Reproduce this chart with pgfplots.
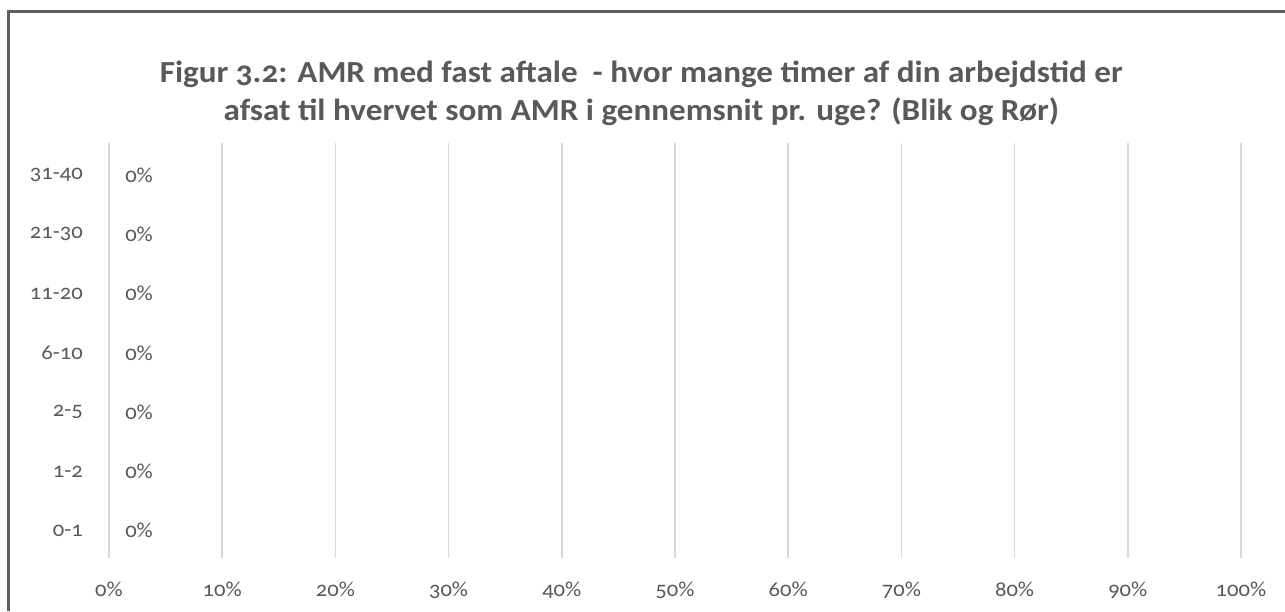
\documentclass[border=0pt]{standalone}
\usepackage{pgfplots}
\pgfplotsset{compat=1.18}
\usepackage{fontspec}
\setmainfont{Carlito}[Numbers=OldStyle]
\newfontfamily\titlefont{Carlito}[Numbers=OldStyle,FakeStretch=1.08]
\newfontfamily\tickfont{Carlito}[Numbers=OldStyle,FakeStretch=1.06]
\definecolor{txt}{HTML}{595959}
\definecolor{gridc}{HTML}{D9D9D9}
\definecolor{framec}{HTML}{5F5F5F}
\definecolor{barc}{HTML}{4472C4}
\begin{document}
\begin{tikzpicture}
\useasboundingbox (0,0) rectangle (963.75pt,458.25pt);
\draw[draw=framec,line width=1.6pt] (6.375pt,0pt) -- (6.375pt,449.625pt) -- (963.75pt,449.625pt);
\node[text=txt,font=\fontsize{23pt}{26pt}\titlefont\bfseries,anchor=center] at (481pt,402.75pt) {Figur 3.2: AMR med fast aftale\ \ - hvor mange timer af din arbejdstid er};
\node[text=txt,font=\fontsize{23pt}{26pt}\titlefont\bfseries,anchor=center] at (481pt,374.25pt) {afsat til hvervet som AMR i gennemsnit pr. uge? (Blik og Rør)};
\begin{axis}[
  at={(81.75pt,39.75pt)}, anchor=south west,
  scale only axis, width=849pt, height=311.25pt,
  xmin=0, xmax=100, ymin=-0.5, ymax=6.5,
  xtick={0,10,...,100},
  xticklabels={0\%,10\%,20\%,30\%,40\%,50\%,60\%,70\%,80\%,90\%,100\%},
  ytick={0,...,6},
  yticklabels={0-1,1-2,2-5,6-10,11-20,21-30,31-40},
  xmajorgrids=true, ymajorgrids=false,
  major grid style={draw=gridc,line width=1.3pt},
  axis on top,
  axis line style={draw=none},
  major tick length=0pt,
  tick label style={text=txt,font=\fontsize{16pt}{18pt}\tickfont},
  /pgf/number format/assume math mode=true,
  xticklabel style={inner sep=0pt,anchor=base,yshift=-29pt},
  yticklabel style={inner sep=0pt,anchor=east,xshift=-19.5pt,yshift=-1.8pt},
  xbar, bar width=30pt,
  nodes near coords={\pgfmathprintnumber{\pgfplotspointmeta}\%},
  nodes near coords style={text=txt,font=\fontsize{16pt}{18pt}\tickfont,inner sep=0pt,anchor=west,xshift=12pt,yshift=-1.8pt},
  clip=false,
]
\addplot[fill=barc,draw=none] coordinates {(0,0) (0,1) (0,2) (0,3) (0,4) (0,5) (0,6)};
\end{axis}
\end{tikzpicture}
\end{document}
